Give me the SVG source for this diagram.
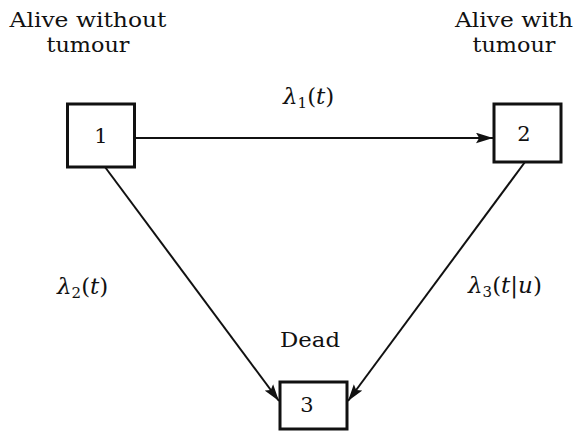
<svg xmlns="http://www.w3.org/2000/svg" width="578" height="431" viewBox="0 0 578 431">
<style>
text{fill:#111;font-family:"DejaVu Serif","Liberation Serif",serif;}
.lbl{font-size:21px;text-anchor:middle;}
.num{font-size:21px;text-anchor:middle;}
.m{font-size:23px;}
.i{font-style:italic;}
.sub{font-size:15px;}
.box{fill:#fff;stroke:#111;stroke-width:3;}
.con{stroke:#111;stroke-width:2;fill:none;}
</style>
<defs>
<marker id="ah2" viewBox="0 0 16 10" refX="16" refY="5" markerWidth="17" markerHeight="11" markerUnits="userSpaceOnUse" orient="auto">
<path d="M0,0 L16,5 L0,10 L3,5 Z" fill="#111"/>
</marker>
</defs>
<g id="connectors">
<line class="con" x1="135" y1="138" x2="493" y2="138" marker-end="url(#ah2)"/>
<line class="con" x1="105" y1="167" x2="279" y2="401" marker-end="url(#ah2)"/>
<line class="con" x1="525" y1="162" x2="348" y2="401" marker-end="url(#ah2)"/>
</g>
<g id="node1">
<rect class="box" x="67.5" y="104" width="67" height="63"/>
<text class="num" x="101" y="143">1</text>
<text class="lbl" x="88" y="27" textLength="157" lengthAdjust="spacingAndGlyphs">Alive without</text>
<text class="lbl" x="88" y="52" textLength="83" lengthAdjust="spacingAndGlyphs">tumour</text>
</g>
<g id="node2">
<rect class="box" x="494" y="104" width="67" height="58"/>
<text class="num" x="524" y="141">2</text>
<text class="lbl" x="514" y="27" textLength="118" lengthAdjust="spacingAndGlyphs">Alive with</text>
<text class="lbl" x="514" y="52" textLength="83" lengthAdjust="spacingAndGlyphs">tumour</text>
</g>
<g id="node3">
<rect class="box" x="280" y="382" width="67" height="47"/>
<text class="num" x="307" y="412">3</text>
<text class="lbl" x="310" y="347" textLength="60" lengthAdjust="spacingAndGlyphs">Dead</text>
</g>
<g id="labels">
<text class="m" x="283" y="104"><tspan class="i">λ</tspan><tspan class="sub" dy="4">1</tspan><tspan dy="-4">(</tspan><tspan class="i">t</tspan>)</text>
<text class="m" x="57" y="294"><tspan class="i">λ</tspan><tspan class="sub" dy="4">2</tspan><tspan dy="-4">(</tspan><tspan class="i">t</tspan>)</text>
<text class="m" x="468" y="293"><tspan class="i">λ</tspan><tspan class="sub" dy="4">3</tspan><tspan dy="-4">(</tspan><tspan class="i">t</tspan>|<tspan class="i">u</tspan>)</text>
</g>
</svg>
